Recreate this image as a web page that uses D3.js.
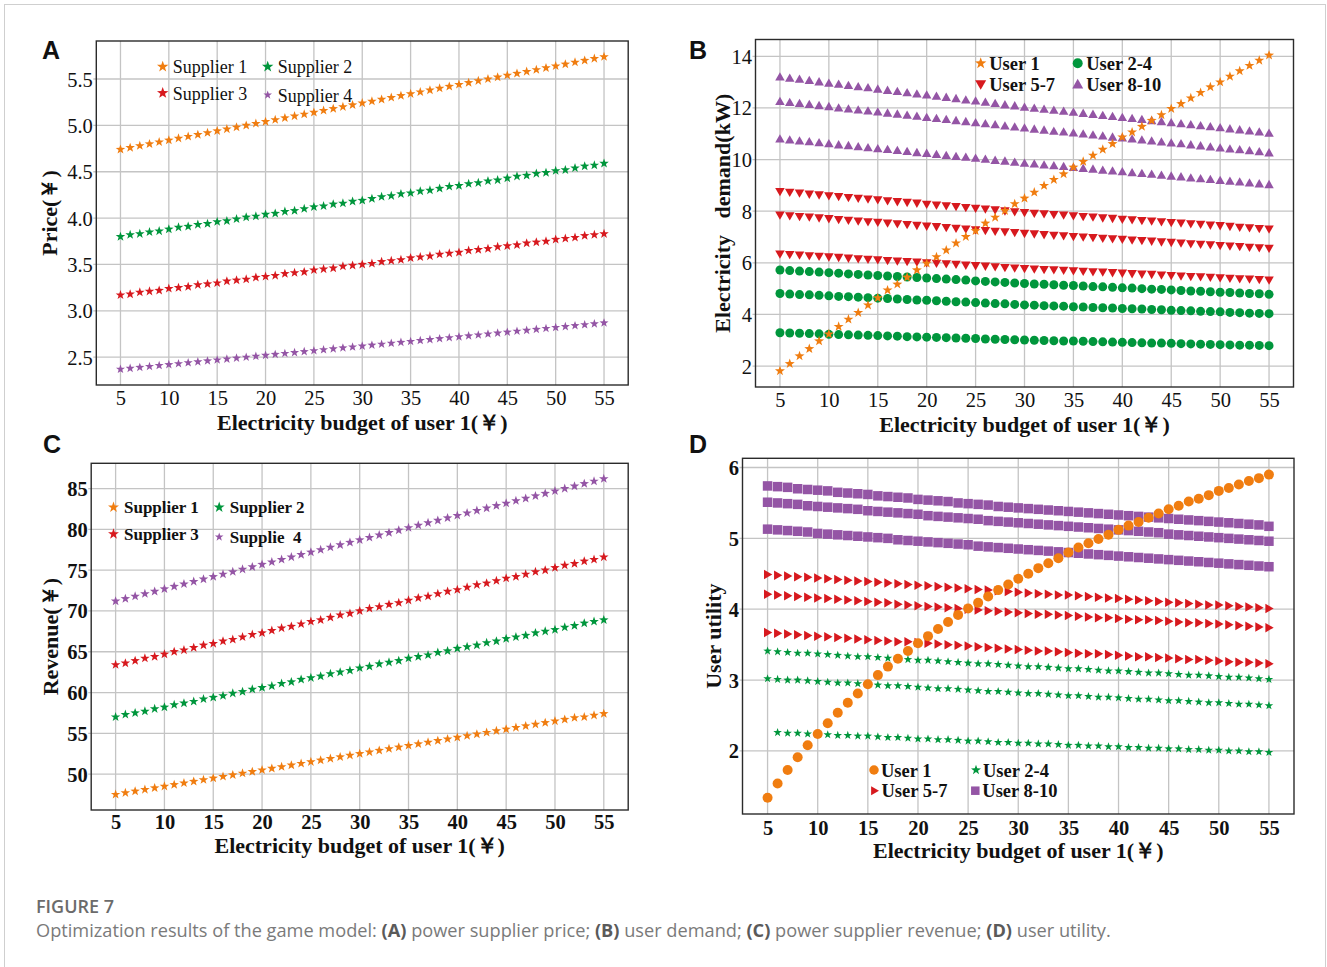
<!DOCTYPE html>
<html>
<head>
<meta charset="utf-8">
<script src="https://cdn.jsdelivr.net/npm/d3@7"></script>
<style>
  body { margin: 0; background: #fff; }
  svg text { white-space: pre; }
</style>
</head>
<body>
<svg id="fig" width="1327" height="967"></svg>
<script>
// ---- data ----
var budget = [5,6,7,8,9,10,11,12,13,14,15,16,17,18,19,20,21,22,23,24,25,26,27,28,29,30,
              31,32,33,34,35,36,37,38,39,40,41,42,43,44,45,46,47,48,49,50,51,52,53,54,55];
var xTicks = [5,10,15,20,25,30,35,40,45,50,55];

// A: supplier price
var priceTicks = [2.5,3.0,3.5,4.0,4.5,5.0,5.5];
var priceS1 = [4.74,4.76,4.78,4.80,4.82,4.84,4.86,4.88,4.90,4.92,4.94,4.96,4.98,5.00,5.02,5.04,5.06,5.08,5.10,5.12,
               5.14,5.16,5.18,5.20,5.22,5.24,5.26,5.28,5.30,5.32,5.34,5.36,5.38,5.40,5.42,5.44,5.46,5.48,5.50,5.52,
               5.54,5.56,5.58,5.60,5.62,5.64,5.66,5.68,5.70,5.72,5.74];
var priceS2 = [3.80,3.82,3.83,3.85,3.86,3.88,3.90,3.91,3.93,3.94,3.96,3.97,3.99,4.01,4.02,4.04,4.05,4.07,4.08,4.10,
               4.12,4.13,4.15,4.16,4.18,4.19,4.21,4.23,4.24,4.26,4.27,4.29,4.30,4.32,4.34,4.35,4.37,4.38,4.40,4.41,
               4.43,4.45,4.46,4.48,4.49,4.51,4.52,4.54,4.56,4.57,4.59];
var priceS3 = [3.17,3.18,3.20,3.21,3.22,3.24,3.25,3.26,3.28,3.29,3.30,3.32,3.33,3.34,3.36,3.37,3.38,3.40,3.41,3.42,
               3.44,3.45,3.46,3.48,3.49,3.50,3.51,3.53,3.54,3.55,3.57,3.58,3.59,3.61,3.62,3.63,3.65,3.66,3.67,3.69,
               3.70,3.71,3.73,3.74,3.75,3.77,3.78,3.79,3.81,3.82,3.83];
var priceS4 = [2.37,2.38,2.39,2.40,2.41,2.42,2.43,2.44,2.45,2.46,2.47,2.48,2.49,2.50,2.51,2.52,2.53,2.54,2.55,2.56,
               2.57,2.58,2.59,2.60,2.61,2.62,2.63,2.64,2.65,2.66,2.67,2.68,2.69,2.70,2.71,2.72,2.73,2.74,2.75,2.76,
               2.77,2.78,2.79,2.80,2.81,2.82,2.83,2.84,2.85,2.86,2.87];

// B: user demand
var demandTicks = [2,4,6,8,10,12,14];
var demandU1 = [1.81,2.09,2.39,2.67,2.97,3.24,3.53,3.81,4.07,4.36,4.64,4.94,5.17,5.44,5.72,5.98,6.23,6.49,6.76,7.01,
                7.24,7.53,7.76,8.02,8.28,8.50,8.73,8.99,9.22,9.44,9.70,9.92,10.16,10.39,10.61,10.87,11.06,11.28,11.51,11.73,
                11.97,12.16,12.38,12.59,12.81,13.00,13.22,13.43,13.64,13.84,14.04];
var demandG1 = [5.72,5.70,5.68,5.66,5.64,5.62,5.60,5.57,5.55,5.53,5.51,5.49,5.47,5.45,5.43,5.41,5.39,5.37,5.35,5.33,
                5.30,5.28,5.26,5.24,5.22,5.20,5.18,5.17,5.15,5.13,5.12,5.10,5.08,5.07,5.05,5.03,5.02,5.00,4.98,4.97,
                4.95,4.93,4.91,4.90,4.88,4.86,4.85,4.83,4.81,4.80,4.78];
var demandG2 = [4.81,4.79,4.77,4.76,4.74,4.72,4.70,4.69,4.67,4.65,4.63,4.62,4.60,4.58,4.56,4.55,4.53,4.51,4.49,4.48,
                4.46,4.44,4.42,4.41,4.39,4.37,4.36,4.34,4.33,4.32,4.30,4.29,4.27,4.26,4.25,4.23,4.22,4.21,4.19,4.18,
                4.16,4.15,4.14,4.12,4.11,4.10,4.08,4.07,4.05,4.04,4.03];
var demandG3 = [3.29,3.28,3.27,3.26,3.25,3.23,3.22,3.21,3.20,3.19,3.18,3.17,3.16,3.14,3.13,3.12,3.11,3.10,3.09,3.08,
                3.07,3.05,3.04,3.03,3.02,3.01,3.00,2.99,2.98,2.97,2.97,2.96,2.95,2.94,2.93,2.92,2.91,2.90,2.89,2.89,
                2.88,2.87,2.86,2.85,2.84,2.83,2.82,2.81,2.81,2.80,2.79];
var demandR1 = [8.76,8.73,8.70,8.66,8.63,8.60,8.57,8.53,8.50,8.47,8.44,8.40,8.37,8.34,8.31,8.27,8.24,8.21,8.18,8.14,
                8.11,8.08,8.05,8.01,7.98,7.95,7.92,7.90,7.87,7.85,7.82,7.79,7.77,7.74,7.72,7.69,7.67,7.64,7.62,7.59,
                7.56,7.54,7.51,7.49,7.46,7.44,7.41,7.38,7.36,7.33,7.31];
var demandR2 = [7.85,7.82,7.79,7.77,7.74,7.71,7.68,7.65,7.62,7.59,7.57,7.54,7.51,7.48,7.45,7.42,7.40,7.37,7.34,7.31,
                7.28,7.25,7.22,7.20,7.17,7.14,7.12,7.09,7.07,7.05,7.02,7.00,6.98,6.95,6.93,6.91,6.88,6.86,6.84,6.81,
                6.79,6.77,6.74,6.72,6.70,6.67,6.65,6.63,6.60,6.58,6.56];
var demandR3 = [6.34,6.32,6.30,6.27,6.25,6.23,6.21,6.18,6.16,6.14,6.12,6.09,6.07,6.05,6.03,6.00,5.98,5.96,5.94,5.91,
                5.89,5.87,5.85,5.82,5.80,5.78,5.76,5.74,5.73,5.71,5.69,5.67,5.65,5.64,5.62,5.60,5.58,5.56,5.55,5.53,
                5.51,5.49,5.47,5.46,5.44,5.42,5.40,5.38,5.37,5.35,5.33];
var demandP1 = [13.20,13.15,13.11,13.06,13.01,12.96,12.92,12.87,12.82,12.78,12.73,12.68,12.64,12.59,12.54,12.50,12.45,12.41,12.36,12.31,
                12.27,12.22,12.17,12.12,12.08,12.03,11.99,11.95,11.91,11.87,11.83,11.79,11.75,11.71,11.67,11.63,11.59,11.55,11.51,11.47,
                11.43,11.39,11.35,11.31,11.27,11.23,11.19,11.15,11.11,11.07,11.02];
var demandP2 = [12.25,12.21,12.17,12.13,12.09,12.05,12.00,11.96,11.92,11.88,11.84,11.80,11.76,11.72,11.68,11.63,11.59,11.55,11.51,11.47,
                11.43,11.39,11.35,11.30,11.26,11.22,11.18,11.14,11.10,11.07,11.03,10.99,10.95,10.91,10.87,10.84,10.80,10.76,10.72,10.68,
                10.64,10.61,10.57,10.53,10.49,10.45,10.41,10.38,10.34,10.30,10.26];
var demandP3 = [10.80,10.76,10.72,10.69,10.65,10.61,10.57,10.54,10.50,10.46,10.42,10.39,10.35,10.31,10.27,10.24,10.20,10.16,10.12,10.09,
                10.05,10.01,9.97,9.94,9.90,9.86,9.83,9.79,9.76,9.73,9.69,9.66,9.63,9.59,9.56,9.53,9.49,9.46,9.43,9.39,
                9.36,9.33,9.29,9.26,9.23,9.19,9.16,9.13,9.09,9.06,9.03];

// C: supplier revenue
var revenueTicks = [50,55,60,65,70,75,80,85];
var revenueS1 = [47.5,47.7,47.9,48.1,48.3,48.5,48.7,48.9,49.1,49.3,49.5,49.7,49.9,50.1,50.3,50.5,50.7,50.9,51.1,51.3,
                 51.5,51.7,51.9,52.1,52.3,52.5,52.7,52.9,53.1,53.3,53.5,53.7,53.9,54.1,54.3,54.5,54.7,54.9,55.1,55.3,
                 55.5,55.7,55.9,56.1,56.3,56.5,56.7,56.9,57.0,57.2,57.4];
var revenueS2 = [57.0,57.3,57.5,57.7,58.0,58.2,58.5,58.7,58.9,59.2,59.4,59.6,59.9,60.1,60.4,60.6,60.8,61.1,61.3,61.6,
                 61.8,62.0,62.3,62.5,62.7,63.0,63.2,63.5,63.7,63.9,64.2,64.4,64.6,64.9,65.1,65.4,65.6,65.8,66.1,66.3,
                 66.6,66.8,67.0,67.3,67.5,67.7,68.0,68.2,68.5,68.7,68.9];
var revenueS3 = [63.4,63.6,63.9,64.2,64.4,64.7,65.0,65.2,65.5,65.8,66.0,66.3,66.5,66.8,67.1,67.3,67.6,67.9,68.1,68.4,
                 68.7,68.9,69.2,69.5,69.7,70.0,70.3,70.5,70.8,71.0,71.3,71.6,71.8,72.1,72.4,72.6,72.9,73.2,73.4,73.7,
                 74.0,74.2,74.5,74.8,75.0,75.3,75.6,75.8,76.1,76.3,76.6];
var revenueS4 = [71.2,71.5,71.8,72.1,72.4,72.7,73.0,73.3,73.6,73.9,74.2,74.5,74.8,75.1,75.4,75.7,76.0,76.3,76.6,76.9,
                 77.2,77.5,77.8,78.1,78.4,78.7,79.0,79.3,79.6,79.9,80.2,80.5,80.8,81.1,81.4,81.7,82.0,82.3,82.6,82.9,
                 83.2,83.5,83.8,84.1,84.4,84.7,85.0,85.3,85.6,85.9,86.2];

// D: user utility (null = no point at that budget)
var utilityTicks = [2,3,4,5,6];
var utilityU1 = [1.34,1.54,1.73,1.91,2.08,2.24,2.39,2.54,2.68,2.81,2.94,3.07,3.19,3.30,3.41,3.52,3.62,3.72,3.82,3.92,
                 4.01,4.09,4.18,4.27,4.35,4.43,4.50,4.58,4.65,4.72,4.80,4.87,4.93,4.99,5.05,5.12,5.18,5.23,5.29,5.35,
                 5.41,5.46,5.52,5.56,5.61,5.67,5.71,5.76,5.81,5.85,5.90];
var utilityG1 = [3.41,3.40,3.39,3.38,3.38,3.37,3.36,3.35,3.34,3.33,3.33,3.32,3.31,3.30,3.29,3.28,3.28,3.27,3.26,3.25,
                 3.24,3.23,3.23,3.22,3.21,3.20,3.19,3.19,3.18,3.17,3.16,3.16,3.15,3.14,3.13,3.13,3.12,3.11,3.10,3.10,
                 3.09,3.08,3.07,3.07,3.06,3.05,3.04,3.04,3.03,3.02,3.01];
var utilityG2 = [3.02,3.01,3.00,3.00,2.99,2.98,2.97,2.96,2.96,2.95,2.94,2.93,2.92,2.92,2.91,2.90,2.89,2.88,2.88,2.87,
                 2.86,2.85,2.84,2.84,2.83,2.82,2.81,2.81,2.80,2.79,2.78,2.78,2.77,2.76,2.76,2.75,2.74,2.73,2.73,2.72,
                 2.71,2.71,2.70,2.69,2.68,2.68,2.67,2.66,2.66,2.65,2.64];
var utilityG3 = [null,2.26,2.25,2.25,2.24,2.24,2.23,2.22,2.22,2.21,2.21,2.20,2.19,2.19,2.18,2.17,2.17,2.16,2.16,2.15,
                 2.14,2.14,2.13,2.12,2.12,2.11,2.11,2.10,2.10,2.09,2.08,2.08,2.07,2.07,2.06,2.06,2.05,2.05,2.04,2.04,
                 2.03,2.03,2.02,2.02,2.01,2.01,2.00,2.00,1.99,1.99,1.98];
var utilityR1 = [4.49,4.48,4.47,4.46,4.45,4.44,4.43,4.42,4.41,4.40,4.39,4.38,4.37,4.36,4.35,4.34,4.33,4.32,4.31,4.30,
                 4.29,4.28,4.27,4.26,4.25,4.24,4.23,4.22,4.21,4.20,4.20,4.19,4.18,4.17,4.16,4.15,4.14,4.13,4.12,4.11,
                 4.10,4.09,4.08,4.07,4.06,4.06,4.05,4.04,4.03,4.02,4.01];
var utilityR2 = [4.21,4.20,4.19,4.18,4.17,4.16,4.15,4.14,4.13,4.12,4.11,4.10,4.09,4.07,4.06,4.05,4.04,4.03,4.02,4.01,
                 4.00,3.99,3.98,3.97,3.96,3.95,3.94,3.93,3.93,3.92,3.91,3.90,3.89,3.88,3.88,3.87,3.86,3.85,3.85,3.84,
                 3.83,3.82,3.81,3.81,3.80,3.79,3.78,3.77,3.76,3.75,3.74];
var utilityR3 = [3.67,3.66,3.65,3.64,3.63,3.62,3.61,3.60,3.59,3.58,3.57,3.56,3.55,3.54,3.54,3.53,3.52,3.51,3.50,3.49,
                 3.48,3.47,3.46,3.45,3.44,3.43,3.42,3.41,3.41,3.40,3.39,3.38,3.37,3.37,3.36,3.35,3.34,3.33,3.33,3.32,
                 3.31,3.30,3.29,3.29,3.28,3.27,3.26,3.25,3.25,3.24,3.23];
var utilityP1 = [5.74,5.73,5.72,5.70,5.69,5.68,5.67,5.65,5.64,5.63,5.62,5.60,5.59,5.58,5.57,5.55,5.54,5.53,5.52,5.50,
                 5.49,5.48,5.47,5.45,5.44,5.43,5.42,5.41,5.40,5.39,5.38,5.37,5.36,5.35,5.34,5.33,5.32,5.31,5.30,5.29,
                 5.28,5.27,5.26,5.25,5.24,5.23,5.22,5.21,5.20,5.19,5.17];
var utilityP2 = [5.51,5.50,5.49,5.48,5.46,5.45,5.44,5.43,5.42,5.41,5.39,5.38,5.37,5.36,5.35,5.34,5.32,5.31,5.30,5.29,
                 5.28,5.27,5.25,5.24,5.23,5.22,5.21,5.20,5.19,5.18,5.17,5.16,5.15,5.14,5.13,5.12,5.11,5.10,5.09,5.08,
                 5.06,5.05,5.04,5.03,5.02,5.01,5.00,4.99,4.98,4.97,4.96];
var utilityP3 = [5.13,5.12,5.11,5.10,5.09,5.07,5.06,5.05,5.04,5.03,5.02,5.01,5.00,4.98,4.97,4.96,4.95,4.94,4.93,4.92,
                 4.91,4.89,4.88,4.87,4.86,4.85,4.84,4.83,4.82,4.81,4.80,4.79,4.78,4.77,4.76,4.75,4.74,4.73,4.72,4.71,
                 4.70,4.69,4.68,4.67,4.66,4.65,4.64,4.63,4.62,4.61,4.60];

// ---- styles ----
var ORANGE = "#f07d10", GREEN = "#00963c", RED = "#d7191e", PURPLE = "#9455a5";
var SERIF = "'Liberation Serif', 'Times New Roman', serif";

// marker shapes centred on 0,0; s = overall width
function markerPath(type, s) {
    var p = d3.path(), r = s / 2, i, a;
    if (type == "star") {
        for (i = 0; i < 10; i++) {
            a = -Math.PI / 2 + i * Math.PI / 5;
            var rr = (i % 2 == 0) ? r : r * 0.4;
            if (i == 0) p.moveTo(rr * Math.cos(a), rr * Math.sin(a));
            else p.lineTo(rr * Math.cos(a), rr * Math.sin(a));
        }
        p.closePath();
    }
    else if (type == "circle") {
        p.moveTo(r, 0);
        p.arc(0, 0, r, 0, 2 * Math.PI);
    }
    else if (type == "square") {
        p.rect(-r, -r, s, s);
    }
    else if (type == "tri-up") {
        p.moveTo(0, -r); p.lineTo(r, r * 0.75); p.lineTo(-r, r * 0.75); p.closePath();
    }
    else if (type == "tri-down") {
        p.moveTo(0, r); p.lineTo(r, -r * 0.75); p.lineTo(-r, -r * 0.75); p.closePath();
    }
    else if (type == "tri-right") {
        p.moveTo(r, 0); p.lineTo(-r * 0.75, r); p.lineTo(-r * 0.75, -r); p.closePath();
    }
    return p.toString();
}

var svg = d3.select("#fig");

// outer frame
svg.append("rect")
    .attr("x", 4.5).attr("y", 4.5)
    .attr("width", 1321).attr("height", 1000)
    .attr("fill", "none").attr("stroke", "#cfcfcf").attr("stroke-width", 1);

var panels = [
    {
        label: "A", labelPos: [42, 59],
        box: {left: 96.3, top: 41, right: 628.2, bottom: 385},
        yDomain: [2.20, 5.91], yTicks: priceTicks, yFormat: d3.format(".1f"),
        tickBold: false, xLabelDy: 20,
        yTitle: "Price(￥)", yTitleX: 57, xTitleY: 430,
        series: [
            {values: priceS1, color: ORANGE, shape: "star", size: 10},
            {values: priceS2, color: GREEN, shape: "star", size: 10},
            {values: priceS3, color: RED, shape: "star", size: 10},
            {values: priceS4, color: PURPLE, shape: "star", size: 9.5}
        ],
        legend: {bold: false, fontSize: 18, items: [
            {text: "Supplier 1", color: ORANGE, shape: "star", size: 12, x: 162.7, y: 66.7},
            {text: "Supplier 2", color: GREEN, shape: "star", size: 12, x: 267.7, y: 66.7},
            {text: "Supplier 3", color: RED, shape: "star", size: 12, x: 162.7, y: 93},
            {text: "Supplier 4", color: PURPLE, shape: "star", size: 9, x: 267.7, y: 95}
        ], textDx: 10, textDy: 6.5}
    },
    {
        label: "B", labelPos: [689, 59],
        box: {left: 755.5, top: 39.5, right: 1293.5, bottom: 387},
        yDomain: [1.19, 14.65], yTicks: demandTicks, yFormat: d3.format("d"),
        tickBold: false, xLabelDy: 20,
        yTitle: "Electricity   demand(kW)", yTitleX: 730, xTitleY: 432,
        series: [
            {values: demandP1, color: PURPLE, shape: "tri-up", size: 9.5},
            {values: demandP2, color: PURPLE, shape: "tri-up", size: 9.5},
            {values: demandP3, color: PURPLE, shape: "tri-up", size: 9.5},
            {values: demandR1, color: RED, shape: "tri-down", size: 9.5},
            {values: demandR2, color: RED, shape: "tri-down", size: 9.5},
            {values: demandR3, color: RED, shape: "tri-down", size: 9.5},
            {values: demandG1, color: GREEN, shape: "circle", size: 9},
            {values: demandG2, color: GREEN, shape: "circle", size: 9},
            {values: demandG3, color: GREEN, shape: "circle", size: 9},
            {values: demandU1, color: ORANGE, shape: "star", size: 10.5}
        ],
        legend: {bold: true, fontSize: 18.5, items: [
            {text: "User 1", color: ORANGE, shape: "star", size: 12, x: 980.7, y: 63.3},
            {text: "User 2-4", color: GREEN, shape: "circle", size: 10, x: 1077.7, y: 63.3},
            {text: "User 5-7", color: RED, shape: "tri-down", size: 11, x: 980.7, y: 84.3},
            {text: "User 8-10", color: PURPLE, shape: "tri-up", size: 11, x: 1077.7, y: 84.3}
        ], textDx: 8.5, textDy: 6.5}
    },
    {
        label: "C", labelPos: [43, 453],
        box: {left: 91.2, top: 463.3, right: 628.2, bottom: 810},
        yDomain: [45.6, 88.1], yTicks: revenueTicks, yFormat: d3.format("d"),
        tickBold: true, xLabelDy: 19,
        yTitle: "Revenue(￥)", yTitleX: 58, xTitleY: 853,
        series: [
            {values: revenueS4, color: PURPLE, shape: "star", size: 10},
            {values: revenueS3, color: RED, shape: "star", size: 10},
            {values: revenueS2, color: GREEN, shape: "star", size: 10},
            {values: revenueS1, color: ORANGE, shape: "star", size: 10}
        ],
        legend: {bold: true, fontSize: 17, items: [
            {text: "Supplier 1", color: ORANGE, shape: "star", size: 11.5, x: 113.5, y: 507.3},
            {text: "Supplier 2", color: GREEN, shape: "star", size: 11.5, x: 219.2, y: 507.3},
            {text: "Supplier 3", color: RED, shape: "star", size: 11.5, x: 113.5, y: 534},
            {text: "Supplie  4", color: PURPLE, shape: "star", size: 9, x: 219.2, y: 537}
        ], textDx: 10.5, textDy: 6}
    },
    {
        label: "D", labelPos: [689, 453],
        box: {left: 742.5, top: 458.3, right: 1294, bottom: 814},
        yDomain: [1.11, 6.13], yTicks: utilityTicks, yFormat: d3.format("d"),
        tickBold: true, xLabelDy: 21,
        yTitle: "User utility", yTitleX: 721, xTitleY: 858,
        series: [
            {values: utilityP1, color: PURPLE, shape: "square", size: 9.5},
            {values: utilityP2, color: PURPLE, shape: "square", size: 9.5},
            {values: utilityP3, color: PURPLE, shape: "square", size: 9.5},
            {values: utilityR1, color: RED, shape: "tri-right", size: 9.5},
            {values: utilityR2, color: RED, shape: "tri-right", size: 9.5},
            {values: utilityR3, color: RED, shape: "tri-right", size: 9.5},
            {values: utilityG1, color: GREEN, shape: "star", size: 9},
            {values: utilityG2, color: GREEN, shape: "star", size: 9},
            {values: utilityG3, color: GREEN, shape: "star", size: 9},
            {values: utilityU1, color: ORANGE, shape: "circle", size: 10}
        ],
        legend: {bold: true, fontSize: 18.5, items: [
            {text: "User 1", color: ORANGE, shape: "circle", size: 9.5, x: 874, y: 770},
            {text: "User 2-4", color: GREEN, shape: "star", size: 10.5, x: 976, y: 770},
            {text: "User 5-7", color: RED, shape: "tri-right", size: 9, x: 874.5, y: 790.7},
            {text: "User 8-10", color: PURPLE, shape: "square", size: 8.5, x: 975.3, y: 790.7}
        ], textDx: 7, textDy: 6.5}
    }
];

panels.forEach(function(cfg) {
    var b = cfg.box;
    var g = svg.append("g");

    var x = d3.scaleLinear().domain([2.5, 57.5]).range([b.left, b.right]);
    var y = d3.scaleLinear().domain(cfg.yDomain).range([b.bottom, b.top]);

    // grid lines
    g.append("g").selectAll("line.vx")
        .data(xTicks).enter().append("line")
        .attr("x1", d => x(d)).attr("x2", d => x(d))
        .attr("y1", b.top).attr("y2", b.bottom)
        .attr("stroke", "#c4c4c4").attr("stroke-width", 1.3);
    g.append("g").selectAll("line.hy")
        .data(cfg.yTicks).enter().append("line")
        .attr("x1", b.left - 3).attr("x2", b.right)
        .attr("y1", d => y(d)).attr("y2", d => y(d))
        .attr("stroke", "#c4c4c4").attr("stroke-width", 1.3);

    // axes (labels only, lines are drawn as grid + frame)
    var xAxis = d3.axisBottom(x).tickValues(xTicks).tickSize(0).tickPadding(0);
    var gx = g.append("g").attr("transform", "translate(0," + b.bottom + ")").call(xAxis);
    gx.select(".domain").remove();
    gx.selectAll("text")
        .attr("dy", null).attr("y", cfg.xLabelDy)
        .attr("font-family", SERIF).attr("font-size", 20.5)
        .attr("font-weight", cfg.tickBold ? "bold" : "normal")
        .attr("fill", "#111");

    var yAxis = d3.axisLeft(y).tickValues(cfg.yTicks).tickFormat(cfg.yFormat).tickSize(0).tickPadding(3.5);
    var gy = g.append("g").attr("transform", "translate(" + b.left + ",0)").call(yAxis);
    gy.select(".domain").remove();
    gy.selectAll("text")
        .attr("dy", "0.34em")
        .attr("font-family", SERIF).attr("font-size", 20.5)
        .attr("font-weight", cfg.tickBold ? "bold" : "normal")
        .attr("fill", "#111");

    // data points
    cfg.series.forEach(function(s) {
        var pts = budget.map((bx, i) => [bx, s.values[i]]).filter(d => d[1] != null);
        g.append("g").selectAll("path")
            .data(pts).enter().append("path")
            .attr("d", markerPath(s.shape, s.size))
            .attr("transform", d => "translate(" + x(d[0]) + "," + y(d[1]) + ")")
            .attr("fill", s.color);
    });

    // plot frame
    g.append("rect")
        .attr("x", b.left).attr("y", b.top)
        .attr("width", b.right - b.left).attr("height", b.bottom - b.top)
        .attr("fill", "none").attr("stroke", "#2b2b2b").attr("stroke-width", 1.4);

    // legend
    var lg = g.append("g");
    cfg.legend.items.forEach(function(it) {
        lg.append("path")
            .attr("d", markerPath(it.shape, it.size))
            .attr("transform", "translate(" + it.x + "," + it.y + ")")
            .attr("fill", it.color);
        lg.append("text")
            .attr("x", it.x + cfg.legend.textDx)
            .attr("y", it.y + cfg.legend.textDy)
            .attr("font-family", SERIF)
            .attr("font-size", cfg.legend.fontSize)
            .attr("font-weight", cfg.legend.bold ? "bold" : "normal")
            .attr("fill", "#111")
            .text(it.text);
    });

    // axis titles
    g.append("text")
        .attr("x", (b.left + b.right) / 2).attr("y", cfg.xTitleY)
        .attr("text-anchor", "middle")
        .attr("font-family", SERIF).attr("font-size", 22).attr("font-weight", "bold")
        .attr("fill", "#111")
        .text("Electricity budget of user 1(￥)");
    g.append("text")
        .attr("transform", "translate(" + cfg.yTitleX + "," + (b.top + b.bottom) / 2 + ") rotate(-90)")
        .attr("text-anchor", "middle")
        .attr("font-family", SERIF).attr("font-size", 22).attr("font-weight", "bold")
        .attr("fill", "#111")
        .text(cfg.yTitle);

    // panel letter
    g.append("text")
        .attr("x", cfg.labelPos[0]).attr("y", cfg.labelPos[1])
        .attr("font-family", "'Liberation Sans', Arial, sans-serif")
        .attr("font-size", 25).attr("font-weight", "bold")
        .attr("fill", "#111")
        .text(cfg.label);
});

// caption
svg.append("text")
    .attr("x", 36).attr("y", 913)
    .attr("font-family", "'Open Sans', 'Noto Sans', sans-serif")
    .attr("font-size", 18).attr("font-weight", 600)
    .attr("fill", "#6b6b6b")
    .text("FIGURE 7");

var cap = svg.append("text")
    .attr("x", 36).attr("y", 937)
    .attr("font-family", "'Open Sans', 'Noto Sans', sans-serif")
    .attr("font-size", 18.2)
    .attr("fill", "#7a7a7a");
[["Optimization results of the game model: ", false], ["(A)", true], [" power supplier price; ", false],
 ["(B)", true], [" user demand; ", false], ["(C)", true], [" power supplier revenue; ", false],
 ["(D)", true], [" user utility.", false]].forEach(function(part) {
    cap.append("tspan")
        .attr("font-weight", part[1] ? "bold" : "normal")
        .attr("fill", part[1] ? "#5a5a5a" : "#7a7a7a")
        .text(part[0]);
});
</script>
</body>
</html>
